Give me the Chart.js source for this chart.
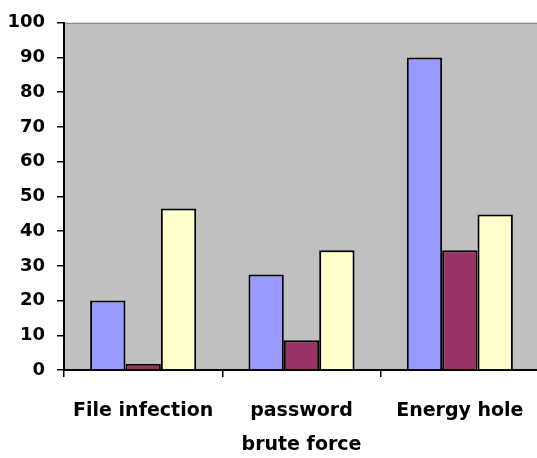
<!DOCTYPE html>
<html>
<head>
<meta charset="utf-8">
<script src="https://cdn.jsdelivr.net/npm/chart.js@4/dist/chart.umd.min.js"></script>
<style>
  html, body { margin: 0; padding: 0; background: #fff; overflow: hidden; }
  #wrap { width: 545px; height: 458px; }
</style>
</head>
<body>
<div id="wrap"><canvas id="bieuDo"></canvas></div>
<script>
const danhMuc = ['File infection', ['password', 'brute force'], 'Energy hole'];
const cotXanh = [20, 27.5, 90];
const cotDo = [1.8, 8.6, 34.5];
const cotVang = [46.5, 34.5, 44.8];
const nhanTrucY = [0, 10, 20, 30, 40, 50, 60, 70, 80, 90, 100];

const nenXam = {
    id: 'nenXam',
    beforeDraw(chart) {
        const { ctx, chartArea } = chart;
        ctx.save();
        ctx.fillStyle = '#c0c0c0';
        ctx.fillRect(chartArea.left, chartArea.top, chart.width - chartArea.left, chartArea.bottom - chartArea.top);
        ctx.strokeStyle = '#808080';
        ctx.lineWidth = 1;
        ctx.beginPath();
        ctx.moveTo(chartArea.left, chartArea.top + 0.5);
        ctx.lineTo(chart.width, chartArea.top + 0.5);
        ctx.stroke();
        ctx.restore();
    }
};

const ctx = document.getElementById('bieuDo').getContext('2d');
new Chart(ctx, {
    type: 'bar',
    data: {
        labels: danhMuc,
        datasets: [
            { data: cotXanh, backgroundColor: '#9999ff', borderColor: '#000', borderWidth: 2 },
            { data: cotDo, backgroundColor: '#993366', borderColor: '#000', borderWidth: 2 },
            { data: cotVang, backgroundColor: '#ffffcc', borderColor: '#000', borderWidth: 2 }
        ]
    },
    options: {
        responsive: true,
        maintainAspectRatio: false,
        animation: false,
        layout: { padding: { top: 22, right: 6, left: 0, bottom: 0 } },
        datasets: { bar: { categoryPercentage: 0.67, barPercentage: 1 } },
        plugins: {
            legend: { display: false },
            tooltip: { enabled: false }
        },
        scales: {
            x: {
                grid: { display: true, offset: true, drawOnChartArea: false, color: '#000', tickLength: 7, lineWidth: 1.5 },
                border: { color: '#000', width: 2 },
                ticks: {
                    color: '#000',
                    font: { family: 'DejaVu Sans', weight: 'bold', size: 19, lineHeight: 1.74 },
                    padding: 18,
                    maxRotation: 0,
                    autoSkip: false
                },
                afterFit(scale) { scale.height = 88; }
            },
            y: {
                min: 0,
                max: 100,
                afterBuildTicks(scale) { scale.ticks = nhanTrucY.map(v => ({ value: v })); },
                grid: { display: true, drawOnChartArea: false, color: '#000', tickLength: 7, lineWidth: 1.5 },
                border: { color: '#000', width: 2 },
                ticks: {
                    color: '#000',
                    font: { family: 'DejaVu Sans', weight: 'bold', size: 18 },
                    padding: 12
                },
                afterFit(scale) { scale.width = 64; }
            }
        }
    },
    plugins: [nenXam]
});
</script>
</body>
</html>
